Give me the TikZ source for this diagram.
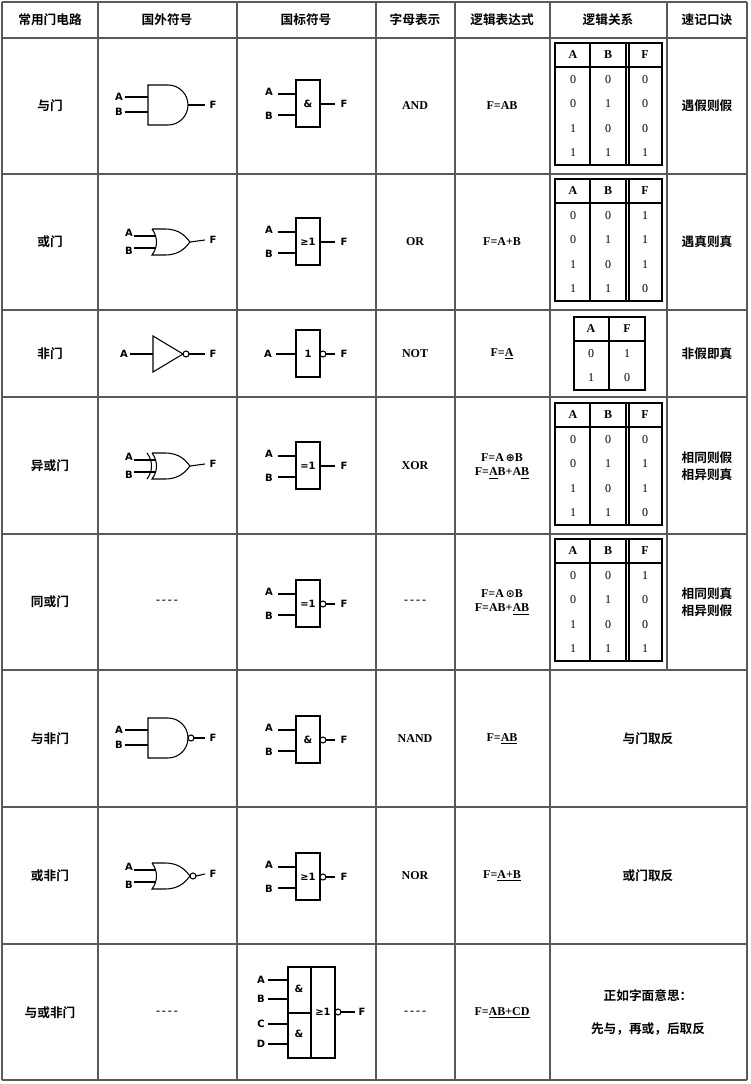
\documentclass[tikz,border=0pt]{standalone}
\usepackage{fontspec}
\setmainfont{Liberation Serif}
\newfontfamily\cjk{Noto Sans CJK SC}[BoldFont={Noto Sans CJK SC Bold}]
\newfontfamily\gs{DejaVu Sans}
\begin{document}
\begin{tikzpicture}[x=0.75pt,y=-0.75pt,line width=0.8pt,
  cn/.style={font=\cjk\bfseries\fontsize{9.5}{13}\selectfont},
  ex/.style={font=\bfseries\fontsize{9}{11}\selectfont,align=center},
  gl/.style={font=\gs\bfseries\fontsize{7.5}{8}\selectfont,inner sep=0pt},
  tt/.style={font=\fontsize{9}{10}\selectfont,inner sep=0pt}]
\useasboundingbox (0,0) rectangle (750,1084);
\fill[white] (0,0) rectangle (750,1084);
% grid
\foreach \y in {2,38,174,310,397,534,670,807,944,1080} \draw[gray!70!black] (2,\y)--(747,\y);
\foreach \x in {2,98,237,376,455,747} \draw[gray!70!black] (\x,2)--(\x,1080);
\draw[gray!70!black] (550,2)--(550,1080);
\draw[gray!70!black] (667,2)--(667,670);
% header
\foreach \x/\t in {50/常用门电路,167/国外符号,306/国标符号,415/字母表示,502/逻辑表达式,608/逻辑关系,707/速记口诀}
  \node[cn] (h\x) at (\x,20) {\t};
% first column
\foreach \y/\t in {106/与门,242/或门,354/非门,466/异或门,602/同或门,739/与非门,876/或非门,1013/与或非门}
  \node[cn] (c\y) at (50,\y) {\t};
% letters
\foreach \y/\t in {106/AND,242/OR,354/NOT,466/XOR,739/NAND,876/NOR}
  \node[ex] (l\y) at (415,\y) {\t};
\node[ex] (d1) at (167,1013) {-\,-\,-\,-};
\node[ex] (d2) at (167,602) {-\,-\,-\,-};
\node[ex] (d3) at (415,602) {-\,-\,-\,-};
\node[ex] (d4) at (415,1013) {-\,-\,-\,-};
% expressions
\node[ex] (e1) at (502,106) {F=AB};
\node[ex] (e2) at (502,242) {F=A+B};
\node[ex] (e3) at (502,354) {F=\underline{A}};
\node[ex] (e4) at (502,466) {F=A\,{\gs\fontsize{8}{9}\selectfont⊕}B\\F=\underline{A}B+A\underline{B}};
\node[ex] (e5) at (502,602) {F=A\,{\gs\fontsize{8}{9}\selectfont⊙}B\\F=AB+\underline{AB}};
\node[ex] (e6) at (502,739) {F=\underline{AB}};
\node[ex] (e7) at (502,876) {F=\underline{A+B}};
\node[ex] (e8) at (502,1013) {F=\underline{AB+CD}};
% mnemonics
\node[cn] (m1) at (707,106) {遇假则假};
\node[cn] (m2) at (707,242) {遇真则真};
\node[cn] (m3) at (707,354) {非假即真};
\node[cn,align=center] (m4) at (707,466) {相同则假\\相异则真};
\node[cn,align=center] (m5) at (707,602) {相同则真\\相异则假};
\node[cn] (m6) at (648,739) {与门取反};
\node[cn] (m7) at (648,876) {或门取反};
\node[cn] (m8) at (648,996) {正如字面意思：};
\node[cn] (m9) at (648,1029) {先与，再或，后取反};
% truth tables
\newcommand\ttab[2]{%
 \begin{scope}[shift={(0,#1)}]
  \draw (555,-63) rectangle (662,59);
  \draw (590,-63)--(590,59); \draw (626,-63)--(626,59); \draw (629,-63)--(629,59);
  \draw (555,-39)--(662,-39);
  \node[ex] at (573,-51) {A}; \node[ex] at (608,-51) {B}; \node[ex] at (645,-51) {F};
  \foreach \a/\b/\f [count=\i] in {#2} {
    \node[tt] at (573,-51+\i*24.5) {\a};
    \node[tt] at (608,-51+\i*24.5) {\b};
    \node[tt] at (645,-51+\i*24.5) {\f};}
 \end{scope}}
\ttab{106}{0/0/0,0/1/0,1/0/0,1/1/1}
\ttab{242}{0/0/1,0/1/1,1/0/1,1/1/0}
\ttab{466}{0/0/0,0/1/1,1/0/1,1/1/0}
\ttab{602}{0/0/1,0/1/0,1/0/0,1/1/1}
\begin{scope}[shift={(0,354)}]
 \draw (574,-37) rectangle (645,36);
 \draw (609,-37)--(609,36); \draw (574,-13)--(645,-13);
 \node[ex] at (591,-25) {A}; \node[ex] at (627,-25) {F};
 \node[tt] at (591,0) {0}; \node[tt] at (627,0) {1};
 \node[tt] at (591,24) {1}; \node[tt] at (627,24) {0};
\end{scope}
% foreign gates
\newcommand\inputs[1]{%
  \node[gl] at (119,-8) {A}; \node[gl] at (119,7) {B};
  \draw (125,-8)--(#1,-8); \draw (125,7)--(#1,7);
  \node[gl] at (213,0) {F};}
\newcommand\andg[2]{\begin{scope}[shift={(0,#1)}]
  \draw (148,-20)--(168,-20) arc(-90:90:20)--(148,20)--cycle;
  \inputs{148}
  \ifnum#2=1 \draw (191,0) circle (3); \draw (194,0)--(205,0);\else\draw (188,0)--(205,0);\fi
 \end{scope}}
\newcommand\orbody{(152,-13)--(165,-13) .. controls (180,-13) and (186,-5) .. (190,0) .. controls (186,5) and (180,13) .. (165,13)--(152,13) .. controls (158,5) and (158,-5) .. (152,-13)}
\newcommand\org[3]{\begin{scope}[shift={(0,#1)}]
  \draw \orbody;
  \ifnum#3=1 \draw (147,-13) .. controls (153,-5) and (153,5) .. (147,13);\fi
  \node[gl] at (129,-9) {A}; \node[gl] at (129,9) {B};
  \draw (134,-6)--(156,-6); \draw (134,6)--(156,6);
  \node[gl] at (213,-2) {F};
  \ifnum#2=1 \draw (193,0) circle (3); \draw (196,0)--(205,-2);\else\draw (190,0)--(205,-2);\fi
 \end{scope}}
\andg{105}{0}
\andg{738}{1}
\org{242}{0}{0}
\org{466}{0}{1}
\org{876}{1}{0}
\begin{scope}[shift={(0,354)}]
 \draw (153,-18)--(183,0)--(153,18)--cycle;
 \draw (186,0) circle (3); \draw (189,0)--(205,0);
 \draw (130,0)--(153,0);
 \node[gl] at (124,0) {A}; \node[gl] at (213,0) {F};
\end{scope}
% national gates
\newcommand\natg[3]{\begin{scope}[shift={(0,#1)}]
  \draw (296,-24) rectangle (320,23);
  \node[gl] at (308,0) {#2};
  \draw (278,-10)--(296,-10); \draw (278,11)--(296,11);
  \node[gl] at (269,-12) {A}; \node[gl] at (269,12) {B};
  \ifnum#3=1 \draw (323,0) circle (3); \draw (326,0)--(335,0);\else\draw (320,0)--(335,0);\fi
  \node[gl] at (344,0) {F};
 \end{scope}}
\natg{104}{\&}{0}
\natg{242}{≥1}{0}
\natg{466}{=1}{0}
\natg{604}{=1}{1}
\natg{740}{\&}{1}
\natg{877}{≥1}{1}
\begin{scope}[shift={(0,354)}]
 \draw (296,-24) rectangle (320,23);
 \node[gl] at (308,0) {1};
 \draw (276,0)--(296,0); \node[gl] at (268,0) {A};
 \draw (323,0) circle (3); \draw (326,0)--(335,0); \node[gl] at (344,0) {F};
\end{scope}
\draw (288,967) rectangle (335,1058);
\draw (311,967)--(311,1058); \draw (288,1013)--(311,1013);
\node[gl] at (299,989) {\&}; \node[gl] at (299,1034) {\&};
\node[gl] at (323,1012) {≥1};
\foreach \y/\t in {980/A,999/B,1024/C,1044/D} {\draw (268,\y)--(288,\y); \node[gl] at (261,\y) {\t};}
\draw (338,1012) circle (3); \draw (341,1012)--(355,1012); \node[gl] at (362,1012) {F};
\end{tikzpicture}
\end{document}
